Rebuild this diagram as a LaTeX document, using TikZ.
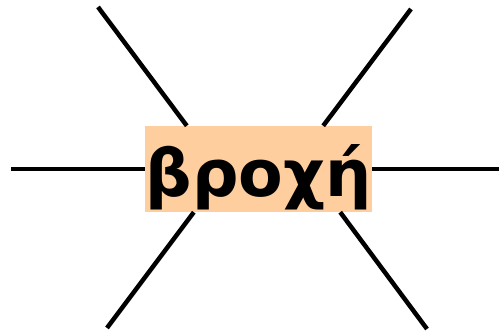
\documentclass[tikz,border=0pt]{standalone}
\usepackage{fontspec}
\newfontfamily\greekfont{DejaVu Sans}
\usetikzlibrary{calc}
\definecolor{rainpeach}{RGB}{255,206,158}
\tikzset{
  wordbox/.style={fill=rainpeach,minimum width=227pt,minimum height=86pt,inner sep=0pt,
    text height=56pt,text depth=0pt,
    font=\greekfont\bfseries\fontsize{65}{65}\selectfont},
  rayline/.style={draw=black,line width=4.5pt},
}
\begin{document}
\begin{tikzpicture}[x=1pt,y=1pt]
  \useasboundingbox (0,0) rectangle (499,331);
  % outer ends of the rays
  \coordinate (rayNW) at (98,324);
  \coordinate (rayNE) at (411,322);
  \coordinate (rayW) at (11,162);
  \coordinate (rayE) at (499,162);
  \coordinate (raySW) at (107,3);
  \coordinate (raySE) at (427,2);
  \node[wordbox] (rain) at (258.5,162) {βροχή};
  \draw[rayline] (rayNW) -- ($(rain.north west)+(42,0)$);
  \draw[rayline] (rayNE) -- ($(rain.north east)+(-49,0)$);
  \draw[rayline] (rayW) -- (rain.west);
  \draw[rayline] (rayE) -- (rain.east);
  \draw[rayline] (raySW) -- ($(rain.south west)+(49,0)$);
  \draw[rayline] (raySE) -- ($(rain.south east)+(-32,0)$);
\end{tikzpicture}
\end{document}
